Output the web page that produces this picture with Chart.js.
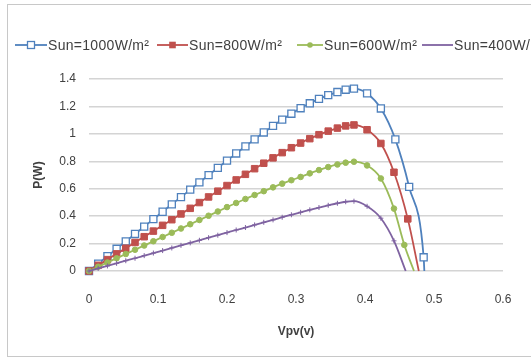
<!DOCTYPE html>
<html>
<head>
<meta charset="utf-8">
<script src="https://cdn.jsdelivr.net/npm/chart.js@4/dist/chart.umd.min.js"></script>
<style>
html,body{margin:0;padding:0;width:531px;height:358px;overflow:hidden;background:#fff;}
#frame{position:absolute;left:7px;top:4px;width:620px;height:351px;border:1px solid #c8c8c8;}
#c{position:absolute;left:0;top:0;}
#legend{position:absolute;left:0;top:35px;width:531px;height:20px;overflow:hidden;white-space:nowrap;font-family:"Liberation Sans",Arial,sans-serif;font-size:14px;color:#404040;}
.sym{position:absolute;top:0;}
.lab{position:absolute;top:0;line-height:20px;letter-spacing:0.3px;}
</style>
</head>
<body>
<div id="frame"></div>
<canvas id="c" width="531" height="358"></canvas>
<div id="legend"></div>
<script>
// ---- data ----
const seriesNames = ['Sun=1000W/m²', 'Sun=800W/m²', 'Sun=600W/m²', 'Sun=400W/m²'];

const vBlue = [0,0.0133,0.0267,0.04,0.0533,0.0667,0.08,0.0933,0.1067,0.12,0.1333,0.1467,0.16,0.1733,0.1867,0.2,0.2133,0.2267,0.24,0.2533,0.2667,0.28,0.2933,0.3067,0.32,0.3333,0.3467,0.36,0.372,0.384,0.403,0.423,0.444,0.464,0.485,0.486];
const pBlue = [0,0.054,0.108,0.162,0.216,0.27,0.324,0.378,0.432,0.486,0.539,0.593,0.646,0.699,0.752,0.805,0.857,0.909,0.96,1.01,1.058,1.104,1.147,1.187,1.223,1.255,1.282,1.305,1.322,1.33,1.295,1.185,0.96,0.613,0.10,0];

const vRed = [0,0.0133,0.0267,0.04,0.0533,0.0667,0.08,0.0933,0.1067,0.12,0.1333,0.1467,0.16,0.1733,0.1867,0.2,0.2133,0.2267,0.24,0.2533,0.2667,0.28,0.2933,0.3067,0.32,0.3333,0.3467,0.36,0.372,0.384,0.403,0.423,0.442,0.462,0.478];
const pRed = [0,0.0415,0.083,0.125,0.166,0.208,0.25,0.291,0.333,0.374,0.416,0.457,0.499,0.54,0.582,0.623,0.664,0.705,0.746,0.786,0.825,0.863,0.899,0.933,0.965,0.994,1.02,1.042,1.058,1.065,1.03,0.93,0.72,0.38,0];

const vGreen = [0,0.0133,0.0267,0.04,0.0533,0.0667,0.08,0.0933,0.1067,0.12,0.1333,0.1467,0.16,0.1733,0.1867,0.2,0.2133,0.2267,0.24,0.2533,0.2667,0.28,0.2933,0.3067,0.32,0.3333,0.3467,0.36,0.372,0.384,0.403,0.423,0.442,0.457,0.471];
const pGreen = [0,0.031,0.062,0.093,0.124,0.155,0.186,0.217,0.248,0.279,0.31,0.341,0.372,0.403,0.434,0.466,0.496,0.525,0.554,0.582,0.61,0.637,0.662,0.686,0.712,0.736,0.758,0.777,0.79,0.797,0.77,0.675,0.455,0.19,0];

const vPurple = [0,0.0133,0.0267,0.04,0.0533,0.0667,0.08,0.0933,0.1067,0.12,0.1333,0.1467,0.16,0.1733,0.1867,0.2,0.2133,0.2267,0.24,0.2533,0.2667,0.28,0.2933,0.3067,0.32,0.3333,0.3467,0.36,0.372,0.384,0.403,0.423,0.442,0.459];
const pPurple = [0,0.019,0.037,0.056,0.075,0.093,0.112,0.131,0.149,0.168,0.187,0.205,0.224,0.243,0.261,0.28,0.299,0.317,0.336,0.355,0.373,0.392,0.41,0.428,0.446,0.463,0.479,0.494,0.505,0.509,0.472,0.385,0.22,0];

const xTickLabels = ['0','0.1','0.2','0.3','0.4','0.5','0.6'];
const yTickLabels = ['0','0.2','0.4','0.6','0.8','1','1.2','1.4'];

// ---- styles ----
const FONT = '"Liberation Sans", Arial, sans-serif';
const colors = ['#4f81bd', '#c0504d', '#9bbb59', '#7f63a1'];
const styles = [
  {pointStyle:'rect', radius:5, bg:'#ffffff', bw:1.3},
  {pointStyle:'rect', radius:4.6, bg:colors[1], bw:1},
  {pointStyle:'circle', radius:2.8, bg:colors[2], bw:1},
  {pointStyle:'cross', radius:2.5, bg:colors[3], bw:1}
];
const vs = [vBlue, vRed, vGreen, vPurple];
const ps = [pBlue, pRed, pGreen, pPurple];

const datasets = seriesNames.map((name, k) => {
  const n = vs[k].length;
  return {
    label: name,
    data: vs[k].map((v, i) => ({x: v, y: ps[k][i]})),
    borderColor: colors[k],
    backgroundColor: styles[k].bg,
    borderWidth: 1.8,
    pointStyle: styles[k].pointStyle,
    pointRadius: (c) => (c.dataIndex === n - 1 ? 0 : styles[k].radius),
    pointBorderColor: colors[k],
    pointBackgroundColor: styles[k].bg,
    pointBorderWidth: styles[k].bw,
    cubicInterpolationMode: 'monotone',
    fill: false,
    clip: false,
    order: 4 - k
  };
});

new Chart(document.getElementById('c'), {
  type: 'line',
  data: {datasets},
  options: {
    responsive: false,
    animation: false,
    layout: {padding: {left: 0, right: 28, top: 79, bottom: 0}},
    plugins: {legend: {display: false}, tooltip: {enabled: false}},
    scales: {
      x: {
        type: 'linear', min: 0, max: 0.6,
        ticks: {stepSize: 0.1, padding: 13, color: '#404040', font: {family: FONT, size: 12},
                callback: (v, i) => xTickLabels[i]},
        grid: {display: false},
        border: {display: false},
        title: {display: true, text: 'Vpv(v)', color: '#404040', font: {family: FONT, size: 12, weight: 'bold'},
                padding: {top: 0, bottom: 19}},
        afterFit: (s) => { s.height = 87; }
      },
      y: {
        min: 0, max: 1.4,
        ticks: {stepSize: 0.2, padding: 13, color: '#404040', font: {family: FONT, size: 12},
                callback: (v, i) => yTickLabels[i]},
        grid: {color: '#d4d4d4', lineWidth: 1.5, drawTicks: false},
        border: {display: false},
        title: {display: true, text: 'P(W)', color: '#404040', font: {family: FONT, size: 12, weight: 'bold'},
                padding: {top: 31, bottom: 0}},
        afterFit: (s) => { s.width = 89; }
      }
    }
  }
});

// ---- legend (HTML, overflowing right edge like the reference) ----
const legendPos = [{s:15, w:32}, {s:157, w:31}, {s:297, w:26}, {s:422, w:31}];
const leg = document.getElementById('legend');
seriesNames.forEach((name, k) => {
  const p = legendPos[k];
  const cx = p.w / 2, cy = 10;
  let mark = '';
  if (k === 0) mark = `<rect x="${cx-3.5}" y="${cy-3.5}" width="7" height="7" fill="#fff" stroke="${colors[k]}" stroke-width="1.3"/>`;
  if (k === 1) mark = `<rect x="${cx-3.3}" y="${cy-3.3}" width="6.6" height="6.6" fill="${colors[k]}"/>`;
  if (k === 2) mark = `<circle cx="${cx}" cy="${cy}" r="2.8" fill="${colors[k]}"/>`;
  const svg = `<svg class="sym" style="left:${p.s}px" width="${p.w}" height="20"><line x1="0" y1="${cy}" x2="${p.w}" y2="${cy}" stroke="${colors[k]}" stroke-width="1.8"/>${mark}</svg>`;
  leg.insertAdjacentHTML('beforeend', svg + `<span class="lab" style="left:${p.s + p.w + 1}px">${name}</span>`);
});
</script>
</body>
</html>
